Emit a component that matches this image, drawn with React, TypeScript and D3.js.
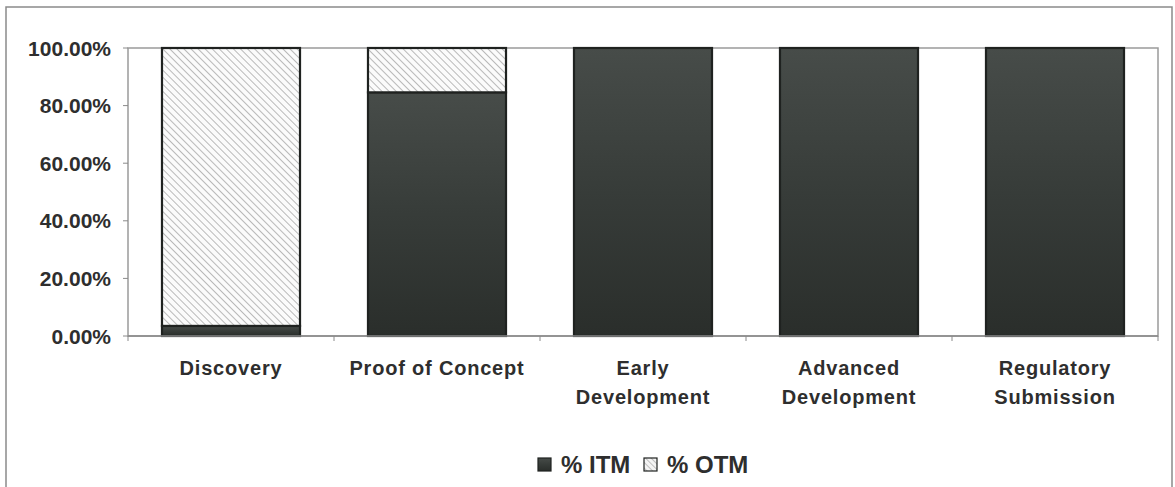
import React from "react";
import * as d3 from "d3";

// Share of in-the-money vs out-of-the-money by development stage
const stages: string[][] = [
  ["Discovery"],
  ["Proof of Concept"],
  ["Early", "Development"],
  ["Advanced", "Development"],
  ["Regulatory", "Submission"],
];
const itm: number[] = [0.035, 0.846, 1, 1, 1];
const otm: number[] = itm.map((v) => 1 - v);
const yTicks: number[] = [0, 0.2, 0.4, 0.6, 0.8, 1];
const seriesNames: string[] = ["% ITM", "% OTM"];

const W = 1175;
const H = 487;
const plot = { left: 128, right: 1158, top: 48, bottom: 336 };
const FONT = "'Liberation Sans', Arial, Helvetica, sans-serif";
const TEXT = "#2e2e2e";

export default function App() {
  const keys = stages.map((s) => s.join(" "));
  const x = d3
    .scaleBand<string>()
    .domain(keys)
    .range([plot.left, plot.right])
    .paddingInner(0.33)
    .paddingOuter(0.165);
  const band = d3.scaleBand<string>().domain(keys).range([plot.left, plot.right]);
  const y = d3.scaleLinear().domain([0, 1]).range([plot.bottom, plot.top]);
  const fmt = d3.format(".2%");

  const rows = keys.map((k, i) => ({ key: k, itm: itm[i], otm: otm[i] }));
  const stacked = d3.stack<any>().keys(["itm", "otm"])(rows);

  return (
    <svg width={W} height={H} style={{ display: "block", position: "absolute", left: 0, top: 0 }}>
      <defs>
        <linearGradient id="itmFill" x1="0" y1="0" x2="0" y2="1">
          <stop offset="0" stopColor="#474c49" />
          <stop offset="0.5" stopColor="#373c39" />
          <stop offset="1" stopColor="#2a2e2b" />
        </linearGradient>
        <pattern id="otmHatch" width="5" height="5" patternUnits="userSpaceOnUse" patternTransform="rotate(-45)">
          <rect width="5" height="5" fill="#fbfbfb" />
          <line x1="0" y1="0" x2="0" y2="5" stroke="#a3a3a3" strokeWidth="1.5" />
        </pattern>
        <pattern id="legendHatch" width="4" height="4" patternUnits="userSpaceOnUse" patternTransform="rotate(-45)">
          <rect width="4" height="4" fill="#f4f4f4" />
          <line x1="0" y1="0" x2="0" y2="4" stroke="#9a9a9a" strokeWidth="1.2" />
        </pattern>
      </defs>
      <rect x={0} y={0} width={W} height={H} fill="#ffffff" />
      {/* outer chart frame */}
      <rect x={6} y={7} width={1166} height={H + 10} fill="none" stroke="#8a8a8a" strokeWidth={1.5} />

      {/* plot area */}
      <rect
        x={plot.left}
        y={plot.top}
        width={plot.right - plot.left}
        height={plot.bottom - plot.top}
        fill="none"
        stroke="#9a9a9a"
        strokeWidth={1.5}
      />

      {/* y axis labels */}
      {yTicks.map((t) => (
        <g key={t}>
          <line x1={plot.left - 5} x2={plot.left} y1={y(t)} y2={y(t)} stroke="#8a8a8a" />
          <text
            x={111}
            y={y(t)}
            dy="0.36em"
            textAnchor="end"
            fontFamily={FONT}
            fontWeight="bold"
            fontSize={21}
            fill={TEXT}
          >
            {fmt(t)}
          </text>
        </g>
      ))}

      {/* bars */}
      {stacked.map((layer) =>
        layer.map((d, i) => {
          const k = keys[i];
          const h = y(d[0]) - y(d[1]);
          if (h <= 0.01) return null;
          return (
            <rect
              key={layer.key + k}
              x={x(k)}
              y={y(d[1])}
              width={x.bandwidth()}
              height={h}
              fill={layer.key === "itm" ? "url(#itmFill)" : "url(#otmHatch)"}
              stroke="#1f2220"
              strokeWidth={2.2}
            />
          );
        })
      )}

      {/* x axis */}
      <line x1={plot.left} x2={plot.right} y1={plot.bottom} y2={plot.bottom} stroke="#8a8a8a" strokeWidth={1.5} />
      {[...keys.map((k) => band(k) as number), plot.right].map((t, i) => (
        <line key={i} x1={t} x2={t} y1={plot.bottom} y2={plot.bottom + 5} stroke="#8a8a8a" />
      ))}
      {stages.map((lines, i) => {
        const cx = (band(keys[i]) as number) + band.bandwidth() / 2;
        return (
          <text
            key={keys[i]}
            x={cx}
            y={375}
            textAnchor="middle"
            fontFamily={FONT}
            fontWeight="bold"
            fontSize={20}
            letterSpacing={0.8}
            fill={TEXT}
          >
            {lines.map((l, j) => (
              <tspan key={j} x={cx} dy={j === 0 ? 0 : 29}>
                {l}
              </tspan>
            ))}
          </text>
        );
      })}

      {/* legend */}
      <g>
        <rect x={538} y={458} width={13} height={13} fill="url(#itmFill)" stroke="#1f2220" strokeWidth={1.2} />
        <text x={561} y={473} fontFamily={FONT} fontWeight="bold" fontSize={24} fill={TEXT}>
          {seriesNames[0]}
        </text>
        <rect x={644} y={458} width={13} height={13} fill="url(#legendHatch)" stroke="#1f2220" strokeWidth={1.2} />
        <text x={667} y={473} fontFamily={FONT} fontWeight="bold" fontSize={24} fill={TEXT}>
          {seriesNames[1]}
        </text>
      </g>
    </svg>
  );
}
